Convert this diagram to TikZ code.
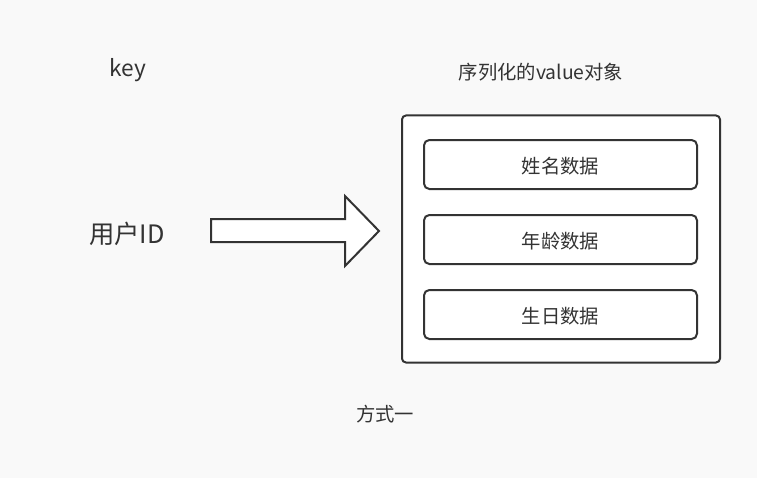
\documentclass[tikz,border=0pt]{standalone}
\usepackage{fontspec}
\setmainfont{Noto Sans CJK SC}
\definecolor{bg}{HTML}{F9F9F9}
\definecolor{ln}{HTML}{333333}
\begin{document}
\begin{tikzpicture}[x=0.75pt,y=-0.75pt,
  box/.style={draw=ln,line width=1.5pt,fill=white,rounded corners=3pt},
  lbl/.style={text=ln,font=\fontsize{14.5}{17}\selectfont,inner sep=0pt,yshift=-1.5pt}]
\fill[bg] (0,0) rectangle (757,478);
\useasboundingbox (0,0) rectangle (757,478);
\node[box,minimum width=318*0.75pt,minimum height=247*0.75pt] (outer) at (561,239) {};
\node[box,rounded corners=4pt,minimum width=273*0.75pt,minimum height=49*0.75pt] (b1) at (560.5,164.5) {};
\node[box,rounded corners=4pt,minimum width=273*0.75pt,minimum height=49*0.75pt] (b2) at (560.5,239.5) {};
\node[box,rounded corners=4pt,minimum width=273*0.75pt,minimum height=49*0.75pt] (b3) at (560.5,314.5) {};
\node[lbl] at (b1) {姓名数据};
\node[lbl] at (b2) {年龄数据};
\node[lbl] at (b3) {生日数据};
\node[lbl,font=\fontsize{17}{20}\selectfont] (key) at (128,68) {key};
\node[lbl,font=\fontsize{19}{22}\selectfont] (uid) at (127,232) {用户ID};
\node[lbl,font=\fontsize{14.5}{17}\selectfont] (val) at (541,70) {序列化的value对象};
\node[lbl,font=\fontsize{14.5}{17}\selectfont] (way) at (385,412) {方式一};
\coordinate (a1) at (211,219);
\draw[draw=ln,fill=white,line width=1.5pt,line join=miter]
  (a1) -- (345,219) -- (345,196) -- (379,231) -- (345,266) -- (345,242) -- (211,242) -- cycle;
\end{tikzpicture}
\end{document}
